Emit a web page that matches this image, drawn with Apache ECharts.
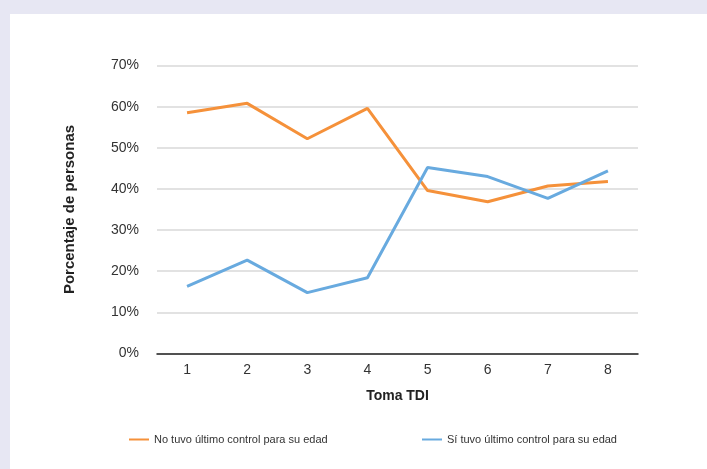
<!DOCTYPE html>
<html>
<head>
<meta charset="utf-8">
<script src="https://cdn.jsdelivr.net/npm/echarts@6/dist/echarts.min.js"></script>
<style>
  html, body { margin: 0; padding: 0; }
  #frame { position: relative; width: 707px; height: 469px; background: #e7e7f3; overflow: hidden; }
  #panel { position: absolute; left: 10px; top: 14px; width: 697px; height: 455px; background: #ffffff; }
  #chart { position: absolute; left: 0; top: 0; width: 707px; height: 469px; }
</style>
</head>
<body>
<div id="frame">
  <div id="panel"></div>
  <div id="chart"></div>
</div>
<script>
// Toma TDI (1..8) and share of people per group
const tomas = ['1', '2', '3', '4', '5', '6', '7', '8'];
const noTuvo = [58.5, 60.8, 52.2, 59.6, 39.6, 36.9, 40.7, 41.8];
const siTuvo = [16.3, 22.7, 14.8, 18.4, 45.2, 43.0, 37.7, 44.4];
const yTicks = [0, 10, 20, 30, 40, 50, 60, 70];

const nameNo = 'No tuvo último control para su edad';
const nameSi = 'Sí tuvo último control para su edad';
const fontFam = 'Liberation Sans, Arial, sans-serif';

const chart = echarts.init(document.getElementById('chart'), null, { renderer: 'canvas' });
chart.setOption({
  backgroundColor: 'transparent',
  animation: false,
  textStyle: { fontFamily: fontFam },
  grid: { left: 157, right: 69, top: 65.5, bottom: 115.5 },
  legend: [
    {
      data: [nameNo], left: 129, top: 434, padding: 0, icon: 'rect', itemWidth: 20, itemHeight: 2, itemGap: 8,
      textStyle: { fontSize: 11, color: '#333', fontFamily: fontFam }
    },
    {
      data: [nameSi], left: 422, top: 434, padding: 0, icon: 'rect', itemWidth: 20, itemHeight: 2, itemGap: 8,
      textStyle: { fontSize: 11, color: '#333', fontFamily: fontFam }
    }
  ],
  xAxis: {
    type: 'category',
    data: tomas,
    boundaryGap: true,
    name: 'Toma TDI',
    nameLocation: 'middle',
    nameGap: 36,
    nameTextStyle: { fontSize: 14, fontWeight: 'bold', color: '#222', fontFamily: fontFam },
    axisLine: { lineStyle: { color: '#222', width: 1.5 } },
    axisTick: { show: false },
    axisLabel: { fontSize: 14, color: '#333', margin: 10 }
  },
  yAxis: {
    type: 'value',
    min: yTicks[0],
    max: yTicks[yTicks.length - 1],
    interval: 10,
    name: 'Porcentaje de personas',
    nameLocation: 'middle',
    nameGap: 80,
    nameTextStyle: { fontSize: 15, fontWeight: 'bold', color: '#222', fontFamily: fontFam },
    axisLine: { show: false },
    axisTick: { show: false },
    axisLabel: { fontSize: 14, color: '#333', margin: 18, formatter: v => v + '%' },
    splitLine: { lineStyle: { color: '#d9d9d9', width: 1.5 } }
  },
  series: [
    {
      name: nameNo, type: 'line', data: noTuvo, symbol: 'none',
      itemStyle: { color: '#f5913a' },
      lineStyle: { color: '#f5913a', width: 3 }
    },
    {
      name: nameSi, type: 'line', data: siTuvo, symbol: 'none',
      itemStyle: { color: '#68aadf' },
      lineStyle: { color: '#68aadf', width: 3 }
    }
  ]
});
</script>
</body>
</html>
